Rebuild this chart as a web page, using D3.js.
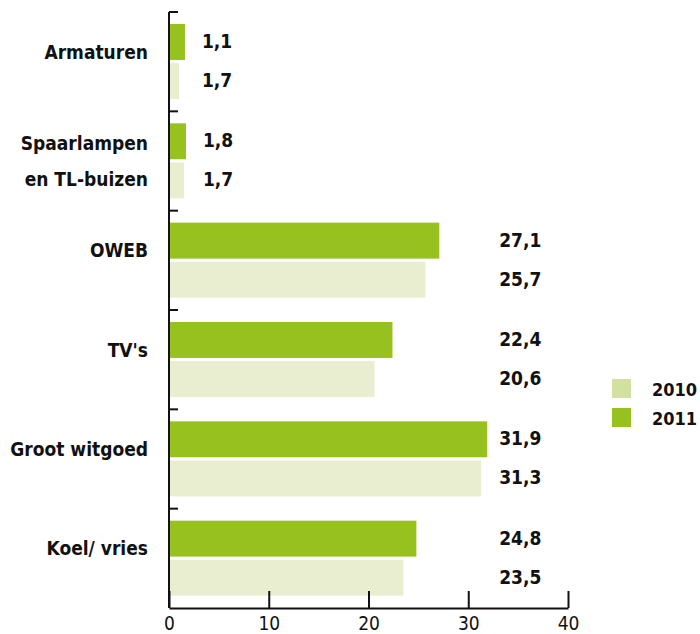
<!DOCTYPE html>
<html lang="nl">
<head>
  <meta charset="UTF-8">
  <title>Chart</title>
  <script src="https://d3js.org/d3.v7.min.js"></script>
  <style>
    body { margin: 0; background: #fff; }
    text { font-family: "DejaVu Sans Condensed", "Liberation Sans Narrow", "Roboto", sans-serif; fill: #111; }
  </style>
</head>
<body>
<div id="chart"></div>
<script>
  // data (bar lengths as drawn, labels as printed)
  const categories = ["Armaturen", "Spaarlampen\nen TL-buizen", "OWEB", "TV's", "Groot witgoed", "Koel/ vries"];
  const values2011 = [1.6, 1.7, 27.1, 22.4, 31.9, 24.8];
  const values2010 = [1.0, 1.5, 25.7, 20.6, 31.3, 23.5];
  const labels2011 = ["1,1", "1,8", "27,1", "22,4", "31,9", "24,8"];
  const labels2010 = ["1,7", "1,7", "25,7", "20,6", "31,3", "23,5"];
  const seriesNames = ["2011", "2010"];
  const legendNames = ["2010", "2011"];
  const xTicks = [0, 10, 20, 30, 40];

  const W = 700, H = 634;
  const colors = { "2011": "#96c11f", "2010": "#e8eecf" };
  const legendColors = { "2011": "#96c11f", "2010": "#d2e0a0" };

  const svg = d3.select("#chart").append("svg")
    .attr("width", W).attr("height", H);

  const x = d3.scaleLinear().domain([0, 40]).range([169, 568]);
  const y = d3.scaleBand().domain(categories).range([12, 608]);
  const y1 = d3.scaleBand().domain(seriesNames).range([12, 87]).paddingInner(0.08);

  const rows = categories.map((c, i) => ({
    cat: c,
    vals: { "2011": values2011[i], "2010": values2010[i] },
    labs: { "2011": labels2011[i], "2010": labels2010[i] }
  }));

  const g = svg.selectAll("g.cat").data(rows).join("g")
    .attr("class", "cat")
    .attr("transform", d => `translate(0,${y(d.cat)})`);

  g.selectAll("rect").data(d => seriesNames.map(s => ({ s, v: d.vals[s] })))
    .join("rect")
    .attr("x", x(0) + 1)
    .attr("y", d => y1(d.s))
    .attr("width", d => x(d.v) - x(0) - 1)
    .attr("height", y1.bandwidth())
    .attr("fill", d => colors[d.s]);

  // value labels: small categories next to bars, the rest in a column
  g.each(function (d) {
    const mx = d3.max(seriesNames, s => d.vals[s]);
    const lx = mx < 10 ? x(mx) + 17 : x(33.1);
    d3.select(this).selectAll("text.val").data(seriesNames.map(s => ({ s, t: d.labs[s] })))
      .join("text")
      .attr("class", "val")
      .attr("x", lx)
      .attr("y", s => y1(s.s) + y1.bandwidth() / 2 + 6)
      .attr("font-size", 19)
      .attr("font-weight", "bold")
      .text(s => s.t);
  });

  // category labels
  g.each(function (d) {
    const lines = d.cat.split("\n");
    const mid = y.bandwidth() / 2;
    const t = d3.select(this).append("text")
      .attr("text-anchor", "end")
      .attr("font-size", 19)
      .attr("font-weight", "bold");
    lines.forEach((l, i) => {
      const off = lines.length === 1 ? -10 : (i - 0.5) * 36;
      t.append("tspan").attr("x", 148).attr("y", mid + off + 7).text(l);
    });
  });

  // left axis with small ticks to the right
  svg.append("line")
    .attr("x1", x(0)).attr("x2", x(0))
    .attr("y1", y.range()[0]).attr("y2", y.range()[1])
    .attr("stroke", "#111").attr("stroke-width", 2);
  svg.selectAll("line.ytick").data(categories).join("line")
    .attr("class", "ytick")
    .attr("x1", x(0)).attr("x2", x(0) + 9)
    .attr("y1", d => y(d)).attr("y2", d => y(d))
    .attr("stroke", "#111").attr("stroke-width", 2);

  // bottom axis, ticks pointing up
  const xAxis = svg.append("g")
    .attr("transform", `translate(0,${y.range()[1]})`)
    .call(d3.axisBottom(x).tickValues(xTicks).tickSizeInner(-17).tickSizeOuter(0).tickPadding(10));
  xAxis.select(".domain").attr("stroke", "#111").attr("stroke-width", 2);
  xAxis.selectAll(".tick line").attr("stroke", "#111").attr("stroke-width", 2);
  xAxis.selectAll(".tick text")
    .attr("font-family", null)
    .attr("font-size", 19)
    .attr("y", 22).attr("dy", null);

  // legend
  const lg = svg.append("g").selectAll("g").data(legendNames).join("g")
    .attr("transform", (d, i) => `translate(612,${379 + i * 29})`);
  lg.append("rect").attr("width", 19).attr("height", 19).attr("fill", d => legendColors[d]);
  lg.append("text").attr("x", 40).attr("y", 17)
    .attr("font-size", 18).attr("font-weight", "bold").text(d => d);
</script>
</body>
</html>
